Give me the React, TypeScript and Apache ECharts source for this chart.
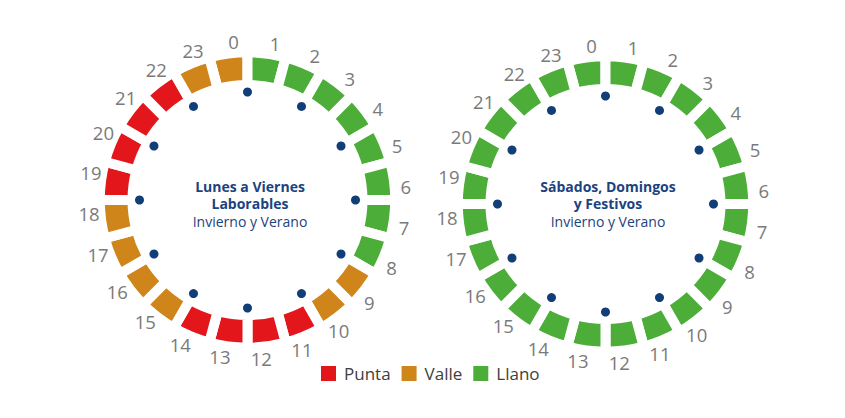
import React, { useEffect, useRef } from "react";
import * as echarts from "echarts";

const hours = ["0","1","2","3","4","5","6","7","8","9","10","11","12","13","14","15","16","17","18","19","20","21","22","23"];
const weekdayTariff = ["Valle","Llano","Llano","Llano","Llano","Llano","Llano","Llano","Llano","Valle","Valle","Punta","Punta","Punta","Punta","Valle","Valle","Valle","Valle","Punta","Punta","Punta","Punta","Valle"];
const weekendTariff = ["Llano","Llano","Llano","Llano","Llano","Llano","Llano","Llano","Llano","Llano","Llano","Llano","Llano","Llano","Llano","Llano","Llano","Llano","Llano","Llano","Llano","Llano","Llano","Llano"];
const tariffNames = ["Punta", "Valle", "Llano"];
const tariffColors: Record<string, string> = { Punta: "#e3161c", Valle: "#cf851a", Llano: "#4cae38" };
const dotAngles = [0, 30, 60, 90, 120, 150, 180, 210, 240, 270, 300, 330];
const leftTitle = ["Lunes a Viernes", "Laborables", "Invierno y Verano"];
const rightTitle = ["Sábados, Domingos", "y Festivos", "Invierno y Verano"];

const FONT = "'Open Sans', 'Noto Sans', sans-serif";
const BLUE = "#1b437f";

export default function App() {
  const ref = useRef<HTMLDivElement>(null);
  useEffect(() => {
    document.body.style.margin = "0";
    const chart = echarts.init(ref.current!, undefined, { renderer: "svg" });
    const centers: [number, number][] = [[247.5, 200], [605.5, 204]];
    const ringSeries = (tariffs: string[], c: [number, number]) => ({
      type: "pie",
      center: c,
      radius: [115, 147.7],
      startAngle: 105,
      clockwise: true,
      silent: true,
      label: { show: false },
      labelLine: { show: false },
      data: tariffs.map((t) => ({
        name: t,
        value: 1,
        itemStyle: { color: tariffColors[t], borderColor: "#ffffff", borderWidth: 10 },
      })),
    });
    const labelSeries = (c: [number, number]) => ({
      type: "pie",
      center: c,
      radius: [145, 167],
      startAngle: 102.5,
      clockwise: true,
      silent: true,
      label: {
        show: true,
        position: "inside",
        rotate: 0,
        formatter: "{b}",
        color: "#7a7a7a",
        fontSize: 18.5,
        fontFamily: FONT,
      },
      labelLine: { show: false },
      itemStyle: { color: "rgba(0,0,0,0)" },
      data: hours.map((h) => ({ name: h, value: 1 })),
    });
    const titleText = (lines: string[], x: number, y: number) => ({
      type: "group",
      children: lines.map((line, i) => ({
        type: "text",
        x,
        y: y + i * 17.8,
        style: {
          text: line,
          fill: BLUE,
          font: `${i < 2 ? "bold " : ""}14px ${FONT}`,
          textAlign: "center",
          textVerticalAlign: "middle",
        },
      })),
    });
    chart.setOption({
      animation: false,
      polar: centers.map((c) => ({ center: c, radius: 108 })),
      angleAxis: centers.map((_, i) => ({
        polarIndex: i,
        type: "value",
        min: 0,
        max: 360,
        startAngle: 90,
        clockwise: true,
        show: false,
      })),
      radiusAxis: centers.map((_, i) => ({
        polarIndex: i,
        type: "value",
        min: 0,
        max: 1,
        show: false,
      })),
      legend: {
        data: tariffNames,
        left: 319,
        top: 364,
        padding: 0,
        itemWidth: 17,
        itemHeight: 17,
        itemGap: 9,
        icon: "rect",
        selectedMode: false,
        textStyle: { color: "#404040", fontSize: 17, fontFamily: FONT, padding: [0, 0, 0, 2] },
      },
      graphic: [
        titleText(leftTitle, 250, 186),
        titleText(rightTitle, 608, 186),
      ],
      series: [
        ringSeries(weekdayTariff, centers[0]),
        ringSeries(weekendTariff, centers[1]),
        labelSeries(centers[0]),
        labelSeries(centers[1]),
        ...centers.map((_, i) => ({
          type: "scatter",
          coordinateSystem: "polar",
          polarIndex: i,
          symbol: "circle",
          symbolSize: 9,
          silent: true,
          itemStyle: { color: "#123e78", opacity: 1 },
          data: dotAngles.map((a) => [1, a]),
        })),
      ],
    });
    return () => chart.dispose();
  }, []);
  return <div ref={ref} style={{ width: 845, height: 418 }} />;
}
